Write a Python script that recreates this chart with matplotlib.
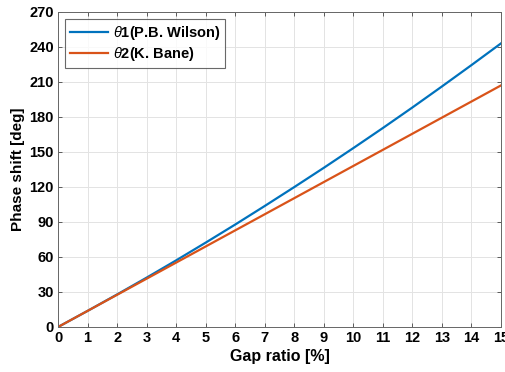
import matplotlib
matplotlib.use("Agg")
import matplotlib.pyplot as plt

gap_ratio = [0, 1, 2, 3, 4, 5, 6, 7, 8, 9, 10, 11, 12, 13, 14, 15]
theta1_wilson = [0, 13.8, 27.9, 42.3, 57.1, 72.3, 87.8, 103.7, 119.9, 136.4, 153.3, 170.5, 188.1, 206.1, 224.4, 243.0]
theta2_bane = [0, 13.8, 27.6, 41.4, 55.2, 69.0, 82.8, 96.6, 110.4, 124.2, 138.0, 151.8, 165.6, 179.4, 193.2, 207.0]
xticks = list(range(0, 16))
yticks = list(range(0, 271, 30))

plt.rcParams['font.family'] = ['Liberation Sans', 'DejaVu Sans']
plt.rcParams['mathtext.fontset'] = 'custom'
plt.rcParams['mathtext.it'] = 'Liberation Sans:italic'
plt.rcParams['mathtext.rm'] = 'Liberation Sans'

fig = plt.figure(figsize=(5.05, 3.72), dpi=100)
ax = fig.add_axes([0.115, 0.121, 0.877, 0.847])
ax.plot(gap_ratio, theta1_wilson, color='#0072BD', lw=1.6, label=r'$\theta$1(P.B. Wilson)')
ax.plot(gap_ratio, theta2_bane, color='#D95319', lw=1.6, label=r'$\theta$2(K. Bane)')
ax.set_xlim(0, 15)
ax.set_ylim(0, 270)
ax.set_xticks(xticks)
ax.set_yticks(yticks)
ax.grid(True, color='#e3e3e3', lw=0.7)
ax.set_axisbelow(True)
ax.tick_params(direction='in', length=3, width=0.6, color='#444444', top=True, right=True,
               labelsize=10.5, pad=3)
for lab in ax.get_xticklabels() + ax.get_yticklabels():
    lab.set_fontweight('bold')
for s in ax.spines.values():
    s.set_color('#666666')
    s.set_linewidth(0.7)
ax.set_xlabel('Gap ratio [%]', fontsize=11.5, fontweight='bold', labelpad=3)
ax.set_ylabel('Phase shift [deg]', fontsize=11, fontweight='bold', labelpad=3)
leg = ax.legend(loc='upper left', prop={'weight': 'bold', 'size': 10.5},
                frameon=True, fancybox=False, edgecolor='#444444', handlelength=2.6,
                borderaxespad=0.5, labelspacing=0.2, handletextpad=0.3, borderpad=0.35)
leg.get_frame().set_linewidth(0.8)
fig.savefig('out.png', dpi=100)
